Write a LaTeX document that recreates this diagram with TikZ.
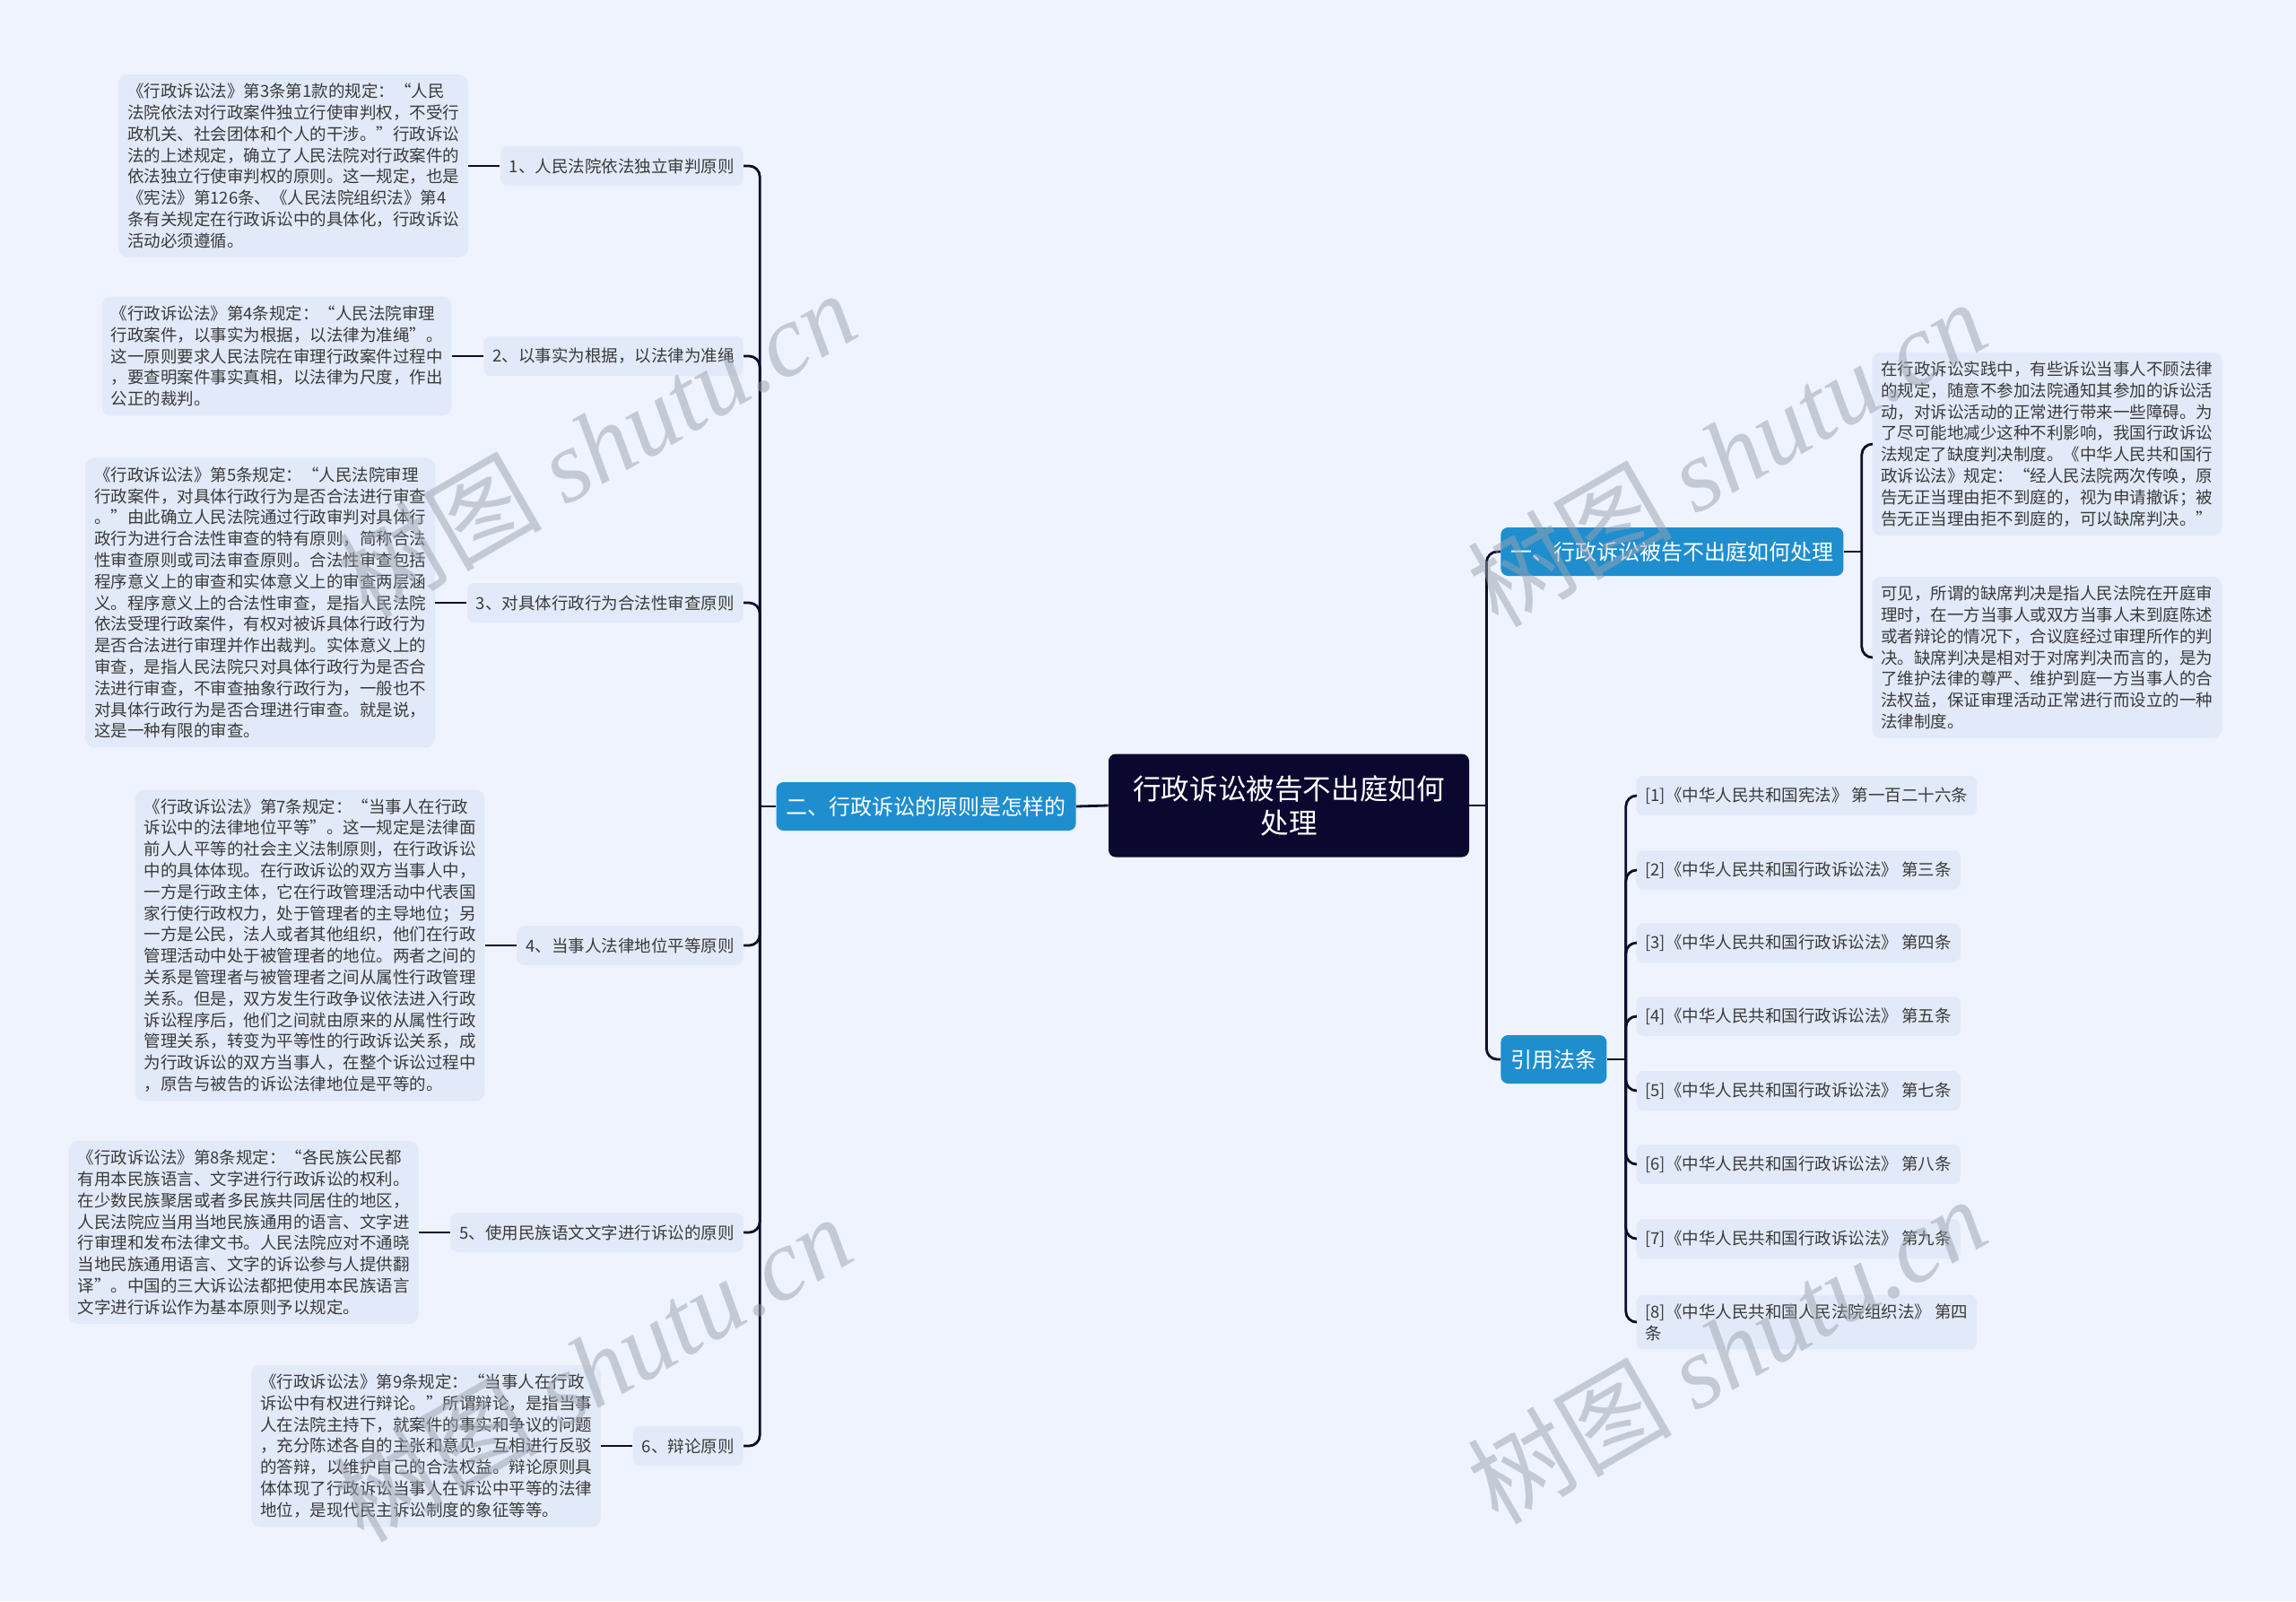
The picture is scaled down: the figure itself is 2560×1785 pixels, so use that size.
\documentclass[tikz,border=0pt]{standalone}
\usepackage{fontspec}
\setmainfont{Noto Sans CJK SC}
\newfontfamily\wmserif{Liberation Serif}
\usetikzlibrary{positioning}
\definecolor{canvas}{HTML}{EEF3FE}
\definecolor{boxfill}{HTML}{E2EAF9}
\definecolor{ink}{HTML}{3A3A3A}
\definecolor{linkcol}{HTML}{0E0C2C}
\definecolor{rootfill}{HTML}{0B0830}
\definecolor{topicblue}{HTML}{1F8ECF}
\definecolor{wmgray}{HTML}{9CA2AE}
\tikzset{
  rootbox/.style={fill=rootfill,text=white,rounded corners=4pt,align=center,
                  minimum width=201pt,minimum height=57.5pt,
                  font=\fontsize{15.8}{19}\selectfont},
  topic/.style={fill=topicblue,text=white,rounded corners=4pt,
                inner xsep=5.5pt,inner ysep=0pt,minimum height=27pt,
                font=\fontsize{12}{14}\selectfont},
  subtopic/.style={fill=boxfill,text=ink,rounded corners=4pt,align=left,
                   inner xsep=5pt,inner ysep=0pt,minimum height=22pt,
                   font=\fontsize{9.25}{11.9}\selectfont},
  note/.style={fill=boxfill,text=ink,rounded corners=5pt,align=left,
               inner xsep=5pt,inner ysep=5pt,
               font=\fontsize{9.25}{11.9}\selectfont},
  link/.style={draw=linkcol,line width=1.4pt,rounded corners=6pt},
  wmark/.style={text=wmgray,opacity=0.5,rotate=30,
                font=\fontsize{57}{57}\selectfont}
}

\begin{document}
\begin{tikzpicture}[x=0.5pt,y=-0.5pt]
  \fill[canvas] (0,0) rectangle (2560,1785);
  \useasboundingbox (0,0) rectangle (2560,1785);

  % centre and first level
  \node[rootbox] (root) at (1437,898) {行政诉讼被告不出庭如何\\处理};
  \node[topic,anchor=east] (t2) at (1200,899) {二、行政诉讼的原则是怎样的};
  \node[topic,anchor=west] (t1) at (1673,615) {一、行政诉讼被告不出庭如何处理};
  \node[topic,anchor=west] (t3) at (1673,1181) {引用法条};

  % left: principles
  \node[subtopic,anchor=east] (p1) at (829,185) {1、人民法院依法独立审判原则};
  \node[subtopic,anchor=east] (p2) at (829,397) {2、以事实为根据，以法律为准绳};
  \node[subtopic,anchor=east] (p3) at (829,672) {3、对具体行政行为合法性审查原则};
  \node[subtopic,anchor=east] (p4) at (829,1054) {4、当事人法律地位平等原则};
  \node[subtopic,anchor=east] (p5) at (829,1374) {5、使用民族语文文字进行诉讼的原则};
  \node[subtopic,anchor=east] (p6) at (829,1612) {6、辩论原则};

  \node[note,left=17.5pt of p1] (n1) {%
《行政诉讼法》第3条第1款的规定：“人民\\
法院依法对行政案件独立行使审判权，不受行\\
政机关、社会团体和个人的干涉。”行政诉讼\\
法的上述规定，确立了人民法院对行政案件的\\
依法独立行使审判权的原则。这一规定，也是\\
《宪法》第126条、《人民法院组织法》第4\\
条有关规定在行政诉讼中的具体化，行政诉讼\\
活动必须遵循。};
  \node[note,left=17.5pt of p2] (n2) {%
《行政诉讼法》第4条规定：“人民法院审理\\
行政案件，以事实为根据，以法律为准绳”。\\
这一原则要求人民法院在审理行政案件过程中\\
，要查明案件事实真相，以法律为尺度，作出\\
公正的裁判。};
  \node[note,left=17.5pt of p3] (n3) {%
《行政诉讼法》第5条规定：“人民法院审理\\
行政案件，对具体行政行为是否合法进行审查\\
。”由此确立人民法院通过行政审判对具体行\\
政行为进行合法性审查的特有原则，简称合法\\
性审查原则或司法审查原则。合法性审查包括\\
程序意义上的审查和实体意义上的审查两层涵\\
义。程序意义上的合法性审查，是指人民法院\\
依法受理行政案件，有权对被诉具体行政行为\\
是否合法进行审理并作出裁判。实体意义上的\\
审查，是指人民法院只对具体行政行为是否合\\
法进行审查，不审查抽象行政行为，一般也不\\
对具体行政行为是否合理进行审查。就是说，\\
这是一种有限的审查。};
  \node[note,left=17.5pt of p4] (n4) {%
《行政诉讼法》第7条规定：“当事人在行政\\
诉讼中的法律地位平等”。这一规定是法律面\\
前人人平等的社会主义法制原则，在行政诉讼\\
中的具体体现。在行政诉讼的双方当事人中，\\
一方是行政主体，它在行政管理活动中代表国\\
家行使行政权力，处于管理者的主导地位；另\\
一方是公民，法人或者其他组织，他们在行政\\
管理活动中处于被管理者的地位。两者之间的\\
关系是管理者与被管理者之间从属性行政管理\\
关系。但是，双方发生行政争议依法进入行政\\
诉讼程序后，他们之间就由原来的从属性行政\\
管理关系，转变为平等性的行政诉讼关系，成\\
为行政诉讼的双方当事人，在整个诉讼过程中\\
，原告与被告的诉讼法律地位是平等的。};
  \node[note,left=17.5pt of p5] (n5) {%
《行政诉讼法》第8条规定：“各民族公民都\\
有用本民族语言、文字进行行政诉讼的权利。\\
在少数民族聚居或者多民族共同居住的地区，\\
人民法院应当用当地民族通用的语言、文字进\\
行审理和发布法律文书。人民法院应对不通晓\\
当地民族通用语言、文字的诉讼参与人提供翻\\
译”。中国的三大诉讼法都把使用本民族语言\\
文字进行诉讼作为基本原则予以规定。};
  \node[note,left=17.5pt of p6] (n6) {%
《行政诉讼法》第9条规定：“当事人在行政\\
诉讼中有权进行辩论。”所谓辩论，是指当事\\
人在法院主持下，就案件的事实和争议的问题\\
，充分陈述各自的主张和意见，互相进行反驳\\
的答辩，以维护自己的合法权益。辩论原则具\\
体体现了行政诉讼当事人在诉讼中平等的法律\\
地位，是现代民主诉讼制度的象征等等。};

  % right: absence of the defendant
  \node[note,anchor=west] (r1) at (2087,495) {%
在行政诉讼实践中，有些诉讼当事人不顾法律\\
的规定，随意不参加法院通知其参加的诉讼活\\
动，对诉讼活动的正常进行带来一些障碍。为\\
了尽可能地减少这种不利影响，我国行政诉讼\\
法规定了缺度判决制度。《中华人民共和国行\\
政诉讼法》规定：“经人民法院两次传唤，原\\
告无正当理由拒不到庭的，视为申请撤诉；被\\
告无正当理由拒不到庭的，可以缺席判决。”};
  \node[note,anchor=west] (r2) at (2087,733) {%
可见，所谓的缺席判决是指人民法院在开庭审\\
理时，在一方当事人或双方当事人未到庭陈述\\
或者辩论的情况下，合议庭经过审理所作的判\\
决。缺席判决是相对于对席判决而言的，是为\\
了维护法律的尊严、维护到庭一方当事人的合\\
法权益，保证审理活动正常进行而设立的一种\\
法律制度。};

  % right: cited articles
  \foreach \i/\y/\law/\art in {1/887/宪法/第一百二十六条,
      2/970/行政诉讼法/第三条, 3/1051/行政诉讼法/第四条,
      4/1133/行政诉讼法/第五条, 5/1216/行政诉讼法/第七条,
      6/1298/行政诉讼法/第八条, 7/1381/行政诉讼法/第九条}{
    \node[subtopic,anchor=west] (f\i) at (1824,\y) {[\i]《中华人民共和国\law》 \art};
  }
  \node[subtopic,anchor=west,inner ysep=5pt] (f8) at (1824,1474)
    {[8]《中华人民共和国人民法院组织法》 第四\\条};

  % connectors
  \draw[link] (root.west) -- (t2.east);
  \draw[link] (t2.west) -- ++(-9pt,0) coordinate (jl);
  \foreach \i in {1,...,6}{
    \draw[link] (jl) |- (p\i.east);
    \draw[link] (n\i.east) -- (p\i.west);
  }
  \draw[link] (root.east) -- ++(9.5pt,0) coordinate (jr);
  \draw[link] (jr) |- (t1.west);
  \draw[link] (jr) |- (t3.west);
  \draw[link] (t1.east) -- ++(10pt,0) coordinate (j1);
  \draw[link] (j1) |- (r1.west);
  \draw[link] (j1) |- (r2.west);
  \draw[link] (t3.east) -- ++(10.5pt,0) coordinate (j3);
  \foreach \i in {1,...,8}
    \draw[link] (j3) |- (f\i.west);

  % watermarks
  \node[wmark] (wm1) at (665,495) {树图 {\wmserif\itshape shutu.cn}};
  \node[wmark] (wm2) at (660,1525) {树图 {\wmserif\itshape shutu.cn}};
  \node[wmark] (wm3) at (1925,505) {树图 {\wmserif\itshape shutu.cn}};
  \node[wmark] (wm4) at (1925,1505) {树图 {\wmserif\itshape shutu.cn}};
\end{tikzpicture}
\end{document}
